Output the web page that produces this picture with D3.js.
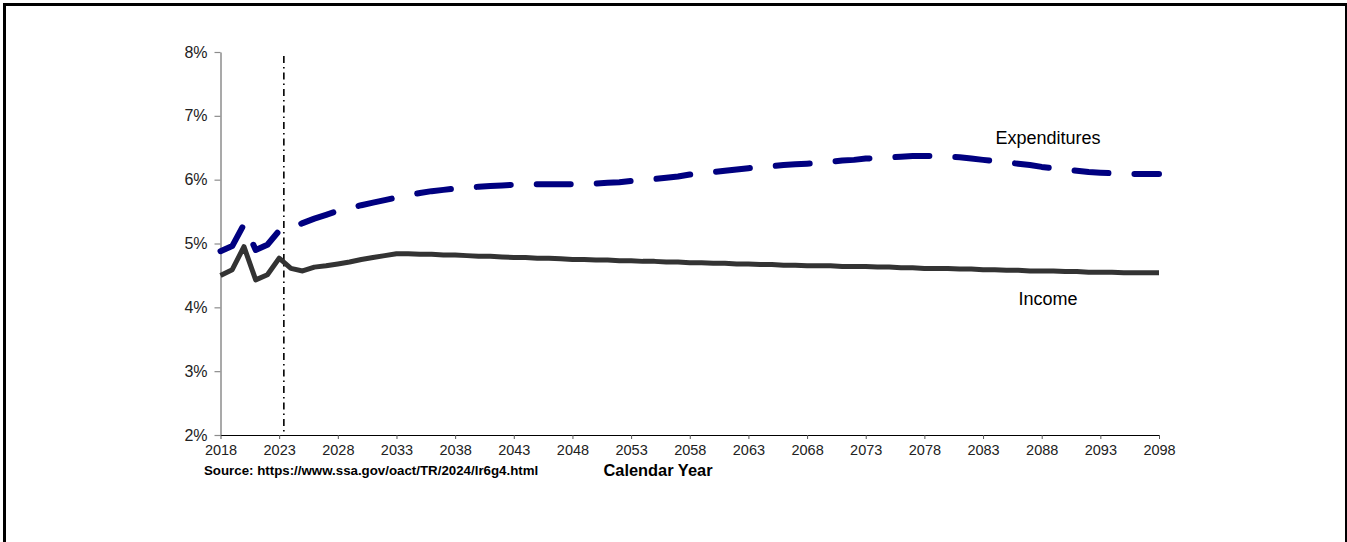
<!DOCTYPE html>
<html>
<head>
<meta charset="utf-8">
<script src="https://cdn.jsdelivr.net/npm/d3@7"></script>
<style>
  body { margin: 0; background: #fff; }
  svg { display: block; font-family: Arial, "Liberation Sans", sans-serif; }
  .tick text { fill: #222; }
</style>
</head>
<body>
<svg width="1347" height="542"></svg>
<script>
// DATA
var years = d3.range(2018, 2099);

// cost as % of GDP, 2018..2098
var expenditures = [
  4.88, 4.96, 5.30, 4.90, 4.98, 5.20, 5.24, 5.32, 5.39, 5.45,
  5.51, 5.55, 5.60, 5.64, 5.68, 5.72, 5.76, 5.79, 5.82, 5.84,
  5.86, 5.87, 5.89, 5.90, 5.91, 5.92, 5.93, 5.93, 5.93, 5.93,
  5.93, 5.94, 5.94, 5.95, 5.96, 5.98, 5.99, 6.01, 6.03, 6.05,
  6.08, 6.10, 6.12, 6.14, 6.16, 6.18, 6.20, 6.21, 6.23, 6.24,
  6.25, 6.26, 6.28, 6.30, 6.31, 6.33, 6.34, 6.35, 6.36, 6.37,
  6.37, 6.37, 6.36, 6.35, 6.33, 6.31, 6.29, 6.27, 6.25, 6.23,
  6.20, 6.18, 6.16, 6.14, 6.12, 6.11, 6.10, 6.09, 6.09, 6.09,
  6.09
];

// income as % of GDP, 2018..2098
var income = [
  4.50, 4.59, 4.95, 4.43, 4.51, 4.77, 4.61, 4.57, 4.63, 4.65,
  4.68, 4.71, 4.75, 4.78, 4.81, 4.84, 4.84, 4.83, 4.83, 4.82,
  4.82, 4.81, 4.80, 4.80, 4.79, 4.78, 4.78, 4.77, 4.77, 4.76,
  4.75, 4.75, 4.74, 4.74, 4.73, 4.73, 4.72, 4.72, 4.71, 4.71,
  4.70, 4.70, 4.69, 4.69, 4.68, 4.68, 4.67, 4.67, 4.66, 4.66,
  4.65, 4.65, 4.65, 4.64, 4.64, 4.64, 4.63, 4.63, 4.62, 4.62,
  4.61, 4.61, 4.61, 4.60, 4.60, 4.59, 4.59, 4.58, 4.58, 4.57,
  4.57, 4.57, 4.56, 4.56, 4.55, 4.55, 4.55, 4.54, 4.54, 4.54,
  4.54
];

var xTicks = d3.range(2018, 2099, 5);
var yTicks = [2, 3, 4, 5, 6, 7, 8];
var projectionStart = 2023.4;

var svg = d3.select('svg');

// frame
svg.append('line').attr('x1', 4.5).attr('y1', 3).attr('x2', 4.5).attr('y2', 542)
  .attr('stroke', '#000').attr('stroke-width', 3);
svg.append('line').attr('x1', 3).attr('y1', 4.5).attr('x2', 1347).attr('y2', 4.5)
  .attr('stroke', '#000').attr('stroke-width', 3);
svg.append('line').attr('x1', 1346).attr('y1', 3).attr('x2', 1346).attr('y2', 542)
  .attr('stroke', '#000').attr('stroke-width', 2);

var x = d3.scaleLinear().domain([2018, 2098]).range([220.5, 1159]);
var y = d3.scaleLinear().domain([2, 8]).range([435, 52]);

// y axis
var yAxis = svg.append('g')
  .attr('transform', 'translate(' + x(2018) + ',0)')
  .call(d3.axisLeft(y).tickValues(yTicks).tickFormat(d => d + '%').tickSize(6).tickSizeOuter(0));
yAxis.select('.domain').attr('stroke', '#8c8c8c').attr('stroke-width', 1.5);
yAxis.selectAll('.tick line').attr('stroke', '#8c8c8c').attr('stroke-width', 1.2);
yAxis.selectAll('.tick text').attr('font-size', 16).attr('x', -13).attr('dy', '0.32em');

// x axis
var xAxis = svg.append('g')
  .attr('transform', 'translate(0,' + y(2) + ')')
  .call(d3.axisBottom(x).tickValues(xTicks).tickFormat(d3.format('d')).tickSize(4).tickSizeOuter(0));
xAxis.select('.domain').attr('stroke', '#000').attr('stroke-width', 1.2);
xAxis.selectAll('.tick line').attr('stroke', '#555');
xAxis.selectAll('.tick text').attr('font-size', 14.5).attr('y', 8).attr('dy', '0.85em');

// projection divider
svg.append('line')
  .attr('x1', x(projectionStart)).attr('x2', x(projectionStart))
  .attr('y1', 56).attr('y2', y(2))
  .attr('stroke', '#000').attr('stroke-width', 1.6)
  .attr('stroke-dasharray', '7,4,1.5,4');

var line = d3.line()
  .x((d, i) => x(years[i]))
  .y(d => y(d));

svg.append('path')
  .datum(income)
  .attr('d', line)
  .attr('fill', 'none')
  .attr('stroke', '#333333')
  .attr('stroke-width', 5)
  .attr('stroke-linejoin', 'round');

svg.append('path')
  .datum(expenditures)
  .attr('d', line)
  .attr('fill', 'none')
  .attr('stroke', '#000080')
  .attr('stroke-width', 6)
  .attr('stroke-linecap', 'round')
  .attr('stroke-linejoin', 'round')
  .attr('stroke-dasharray', '34,26');

// series labels
svg.append('text').attr('x', 1048).attr('y', 144).attr('text-anchor', 'middle')
  .attr('font-size', 18).text('Expenditures');
svg.append('text').attr('x', 1048).attr('y', 305).attr('text-anchor', 'middle')
  .attr('font-size', 18).text('Income');

// source + axis title
svg.append('text').attr('x', 204).attr('y', 475)
  .attr('font-size', 13.3).attr('font-weight', 'bold')
  .text('Source: https://www.ssa.gov/oact/TR/2024/lr6g4.html');
svg.append('text').attr('x', 658).attr('y', 476).attr('text-anchor', 'middle')
  .attr('font-size', 16.4).attr('font-weight', 'bold')
  .text('Calendar Year');
</script>
</body>
</html>
